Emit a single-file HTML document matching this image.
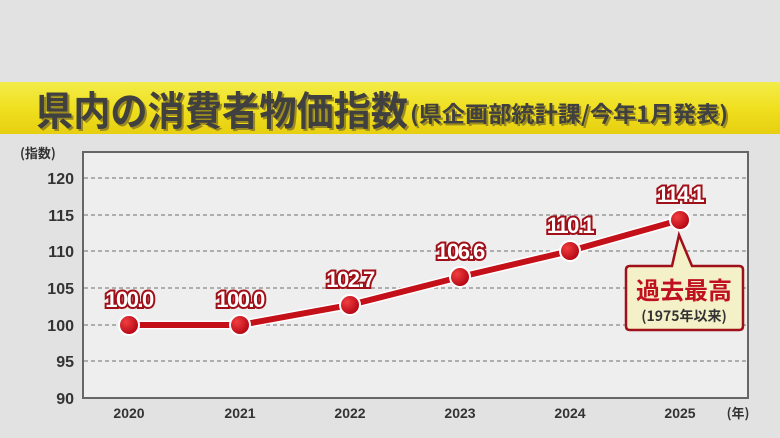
<!DOCTYPE html>
<html><head><meta charset="utf-8"><style>
body{margin:0;background:#e2e2e2;width:780px;height:438px;overflow:hidden;font-family:"Liberation Sans","Noto Sans CJK JP",sans-serif}
</style></head><body>
<svg width="780" height="438" xmlns="http://www.w3.org/2000/svg" style="position:absolute;left:0;top:0">
<defs>
<linearGradient id="y" x1="0" y1="0" x2="0" y2="1"><stop offset="0" stop-color="#f3ec4a"/><stop offset="0.5" stop-color="#f0e020"/><stop offset="1" stop-color="#e6cf10"/></linearGradient>
<radialGradient id="d" cx="0.35" cy="0.35" r="0.7"><stop offset="0" stop-color="#f04040"/><stop offset="1" stop-color="#b00010"/></radialGradient>
</defs>
<rect x="0" y="0" width="780" height="438" fill="#e2e2e2"/>
<rect x="0" y="82" width="780" height="52" fill="url(#y)"/>
<g font-family="Noto Sans CJK JP,sans-serif" font-weight="bold">
<text x="38" y="127" font-size="40" fill="#9a8a20" textLength="372" lengthAdjust="spacingAndGlyphs">県内の消費者物価指数</text>
<text x="36" y="125" font-size="40" fill="#404040" textLength="372" lengthAdjust="spacingAndGlyphs">県内の消費者物価指数</text>
<text x="412" y="124" font-size="22" fill="#9a8a20" textLength="318" lengthAdjust="spacingAndGlyphs">(県企画部統計課/今年1月発表)</text>
<text x="410" y="122" font-size="22" fill="#404040" textLength="318" lengthAdjust="spacingAndGlyphs">(県企画部統計課/今年1月発表)</text>
</g>
<text x="20" y="158" font-size="13" font-weight="bold" fill="#333" font-family="Noto Sans CJK JP,sans-serif">(指数)</text>
<rect x="83" y="152" width="665" height="246" fill="#eeeeee" stroke="#666" stroke-width="2"/>
<g stroke="#888" stroke-width="1.3" stroke-dasharray="4,3">
<line x1="84" y1="178" x2="747" y2="178"/><line x1="84" y1="215" x2="747" y2="215"/><line x1="84" y1="251" x2="747" y2="251"/><line x1="84" y1="288" x2="747" y2="288"/><line x1="84" y1="325" x2="747" y2="325"/><line x1="84" y1="361" x2="747" y2="361"/>
</g>
<g font-size="16" font-weight="bold" fill="#333" text-anchor="end">
<text x="74" y="184">120</text><text x="74" y="221">115</text><text x="74" y="257">110</text><text x="74" y="294">105</text><text x="74" y="331">100</text><text x="74" y="367">95</text><text x="74" y="404">90</text>
</g>
<g font-size="14" font-weight="bold" fill="#333" text-anchor="middle">
<text x="129" y="418">2020</text><text x="240" y="418">2021</text><text x="350" y="418">2022</text><text x="460" y="418">2023</text><text x="570" y="418">2024</text><text x="680" y="418">2025</text>
<text x="738" y="418" font-family="Noto Sans CJK JP,sans-serif" font-size="13">(年)</text>
</g>
<polyline points="129,325 240,325 350,305 460,277 570,251 680,220" fill="none" stroke="#fff" stroke-width="9"/>
<polyline points="129,325 240,325 350,305 460,277 570,251 680,220" fill="none" stroke="#c41018" stroke-width="6"/>
<g stroke="#fff" stroke-width="2" fill="url(#d)">
<circle cx="129" cy="325" r="10"/><circle cx="240" cy="325" r="10"/><circle cx="350" cy="305" r="10"/><circle cx="460" cy="277" r="10"/><circle cx="570" cy="251" r="10"/><circle cx="680" cy="220" r="10"/>
</g>
<g font-size="22" font-weight="bold" text-anchor="middle" fill="#fff" stroke="#a01018" stroke-width="4" paint-order="stroke" letter-spacing="-1.5">
<text x="129" y="307">100.0</text><text x="240" y="307">100.0</text><text x="350" y="287">102.7</text><text x="460" y="259">106.6</text><text x="570" y="233">110.1</text><text x="680" y="202">114.1</text>
</g>
<path d="M630,266 L672,266 L679,235 L692,266 L739,266 Q743,266 743,270 L743,326 Q743,330 739,330 L630,330 Q626,330 626,326 L626,270 Q626,266 630,266 Z" fill="#f4f0c8" stroke="#a01018" stroke-width="2.5"/>
<text x="684" y="299" font-size="24" font-weight="bold" fill="#c01020" text-anchor="middle" font-family="Noto Sans CJK JP,sans-serif">過去最高</text>
<text x="684" y="321" font-size="14" font-weight="bold" fill="#333" text-anchor="middle" font-family="Noto Sans CJK JP,sans-serif">(1975年以来)</text>
</svg>
</body></html>
